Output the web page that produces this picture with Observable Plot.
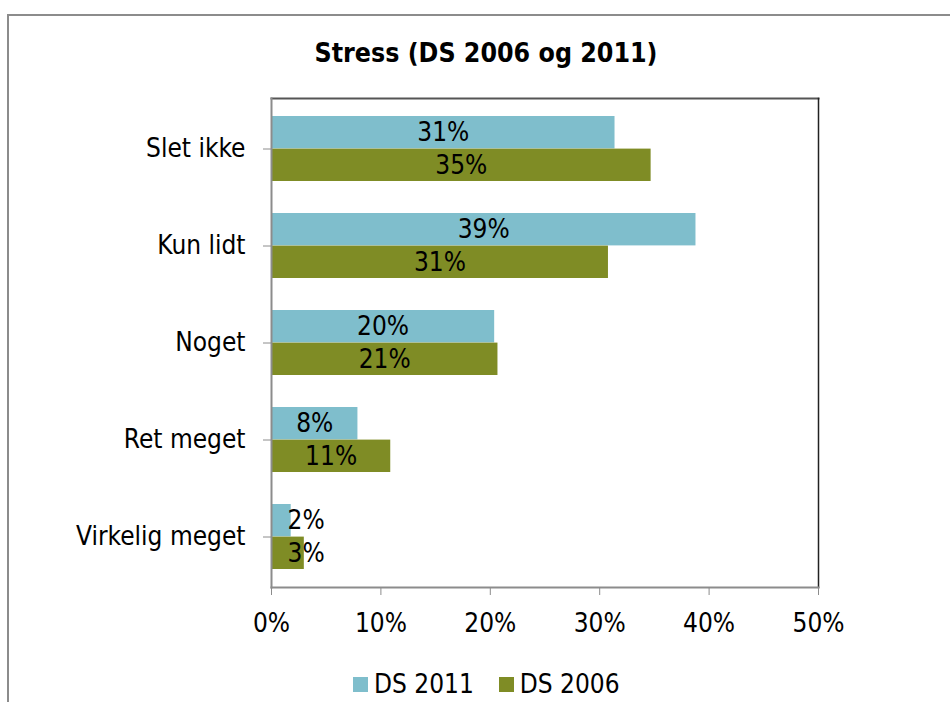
<!DOCTYPE html>
<html>
<head>
<meta charset="utf-8">
<script src="https://cdn.jsdelivr.net/npm/d3@7"></script>
<script src="https://cdn.jsdelivr.net/npm/@observablehq/plot@0.6"></script>
<style>
  html, body { margin: 0; padding: 0; background: #fff; }
  #wrap { position: relative; width: 950px; height: 702px; overflow: hidden; background: #fff;
          font-family: "DejaVu Sans Condensed", "DejaVu Sans", sans-serif; font-stretch: condensed; }
  #border { position: absolute; left: 7px; top: 14px; width: 1000px; height: 800px;
            border-left: 2px solid #8c8c8c; border-top: 2px solid #8c8c8c; }
  #chart { position: absolute; left: 0; top: 0; }
  #title { position: absolute; left: 486px; top: 38px; transform: translateX(-50%);
           font-size: 26.5px; font-weight: bold; line-height: 30px; white-space: nowrap; color: #000; }
  #legend { position: absolute; left: 353px; top: 670px; height: 28px; display: flex; align-items: center;
            font-size: 26px; color: #000; white-space: nowrap; }
  .item { display: flex; align-items: center; margin-right: 25px; }
  .sw { width: 15px; height: 15px; margin-right: 6px; }
</style>
</head>
<body>
<div id="wrap">
  <div id="border"></div>
  <div id="chart"></div>
  <div id="title"></div>
  <div id="legend"></div>
</div>
<script>
const titleText = "Stress (DS 2006 og 2011)";
const categories = ["Slet ikke", "Kun lidt", "Noget", "Ret meget", "Virkelig meget"];
const seriesNames = ["DS 2011", "DS 2006"];
const ds2011 = [31.4, 38.8, 20.4, 7.9, 1.8];
const ds2006 = [34.7, 30.8, 20.7, 10.9, 3.0];
const xTicks = [0, 10, 20, 30, 40, 50];
const colors = ["#7fbecc", "#7f8c25"];

const rows2011 = categories.map((c, i) => ({cat: c, v: ds2011[i]}));
const rows2006 = categories.map((c, i) => ({cat: c, v: ds2006[i]}));

const FONT = '"DejaVu Sans Condensed", "DejaVu Sans", sans-serif';
const FS = 26;
const fmt = d => Math.round(d) + "%";
const small = d => d.v < 5;
const big = d => d.v >= 5;

const plot = Plot.plot({
  width: 950,
  height: 702,
  marginLeft: 271,
  marginRight: 132,
  marginTop: 98,
  marginBottom: 115,
  style: {fontFamily: FONT, fontSize: FS + "px", color: "#000", background: "transparent", fontStretch: "condensed"},
  x: {domain: [0, 50], ticks: xTicks, label: null},
  y: {domain: categories, paddingInner: 0.335, paddingOuter: 0.1675, label: null},
  marks: [
    Plot.barX(rows2011, {y: "cat", x: "v", fill: colors[0], insetBottom: 32.6, insetTop: 0}),
    Plot.barX(rows2006, {y: "cat", x: "v", fill: colors[1], insetTop: 32.6, insetBottom: 0}),
    Plot.text(rows2011.filter(big), {y: "cat", x: d => d.v / 2, text: d => fmt(d.v), dy: -16.3, fill: "#000", fontSize: FS}),
    Plot.text(rows2006.filter(big), {y: "cat", x: d => d.v / 2, text: d => fmt(d.v), dy: 16.3, fill: "#000", fontSize: FS}),
    Plot.text(rows2011.filter(small), {y: "cat", x: 0, text: d => fmt(d.v), dy: -16.3, dx: 16, textAnchor: "start", fill: "#000", fontSize: FS}),
    Plot.text(rows2006.filter(small), {y: "cat", x: 0, text: d => fmt(d.v), dy: 16.3, dx: 16, textAnchor: "start", fill: "#000", fontSize: FS}),
    Plot.frame({anchor: "top", stroke: "#555", strokeWidth: 2}),
    Plot.frame({anchor: "right", stroke: "#222", strokeWidth: 1.5}),
    Plot.frame({anchor: "left", stroke: "#8c8c8c", strokeWidth: 2}),
    Plot.frame({anchor: "bottom", stroke: "#8c8c8c", strokeWidth: 2}),
    Plot.axisX({ticks: xTicks, tickFormat: d => d + "%", tickSize: 8, tickPadding: 18, stroke: "#8c8c8c", fill: "#000", label: null, fontSize: FS}),
    Plot.axisY({tickSize: 8, tickPadding: 18, stroke: "#8c8c8c", fill: "#000", label: null, fontSize: FS})
  ]
});
document.getElementById("chart").appendChild(plot);
document.getElementById("title").textContent = titleText;

const legend = document.getElementById("legend");
seriesNames.forEach((s, i) => {
  const item = document.createElement("div");
  item.className = "item";
  const sw = document.createElement("div");
  sw.className = "sw";
  sw.style.background = colors[i];
  const t = document.createElement("span");
  t.textContent = s;
  item.appendChild(sw);
  item.appendChild(t);
  legend.appendChild(item);
});
</script>
</body>
</html>
